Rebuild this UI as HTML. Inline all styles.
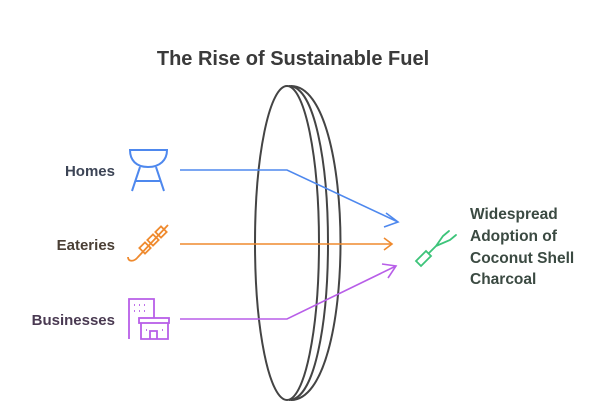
<!DOCTYPE html>
<html><head><style>
body{margin:0;width:606px;height:415px;background:#fff;overflow:hidden;font-family:"Liberation Sans",sans-serif}
</style></head><body>
<svg width="606" height="415" xmlns="http://www.w3.org/2000/svg" font-family="Liberation Sans, sans-serif">
<text x="293" y="65" text-anchor="middle" font-size="20" font-weight="bold" fill="#3a3a3a">The Rise of Sustainable Fuel</text>
<g fill="none" stroke="#444" stroke-width="2">
<ellipse cx="287" cy="243" rx="32" ry="157"/>
<path d="M289,86 C341,86 341,400 289,400"/>
<path d="M291,86 C357,86 357,400 291,400"/>
</g>
<g fill="none" stroke-width="1.6">
<path d="M180,170 H287 L398,222" stroke="#4e88ee"/>
<path d="M386,213 L398,222 L384,227" stroke="#4e88ee"/>
<path d="M180,244 H392" stroke="#ef8a2e"/>
<path d="M384,238 L392,244 L384,250" stroke="#ef8a2e"/>
<path d="M180,319 H287 L396,266" stroke="#b85ee8"/>
<path d="M382,264 L396,266 L388,278" stroke="#b85ee8"/>
</g>
<g fill="none" stroke="#4e88ee" stroke-width="2">
<path d="M130,150 H167 C167,160 160,167 148,167 C136,167 130,160 130,150Z"/>
<path d="M140,167 L132,191 M156,167 L164,191 M136,181 H160"/>
</g>
<g fill="none" stroke="#ef8a2e" stroke-width="1.8">
<path d="M168,225 L138,257 C134,262 128,262 128,257"/>
<rect x="141" y="244" width="8" height="8" transform="rotate(-45 145 248)"/>
<rect x="149" y="236" width="8" height="8" transform="rotate(-45 153 240)"/>
<rect x="157" y="228" width="8" height="8" transform="rotate(-45 161 232)"/>
</g>
<g fill="none" stroke="#b85ee8" stroke-width="1.8">
<path d="M129,339 V299 H154 V318"/>
<rect x="139" y="318" width="30" height="5"/>
<path d="M141,323 V339 H168 V323 M150,339 V331 H157 V339"/>
<path d="M134,305 h1 M139,305 h1 M144,305 h1 M134,311 h1 M139,311 h1 M144,311 h1 M146,330 h1 M162,330 h1"/>
</g>
<g fill="none" stroke="#3dc47a" stroke-width="1.8" stroke-linecap="round">
<path d="M416,261 L426,251 L431,256 L421,266 Z"/>
<path d="M429,253 L436,246 L443,236 L449,231 M436,246 L450,240 L456,235"/>
</g>
<text x="115" y="176" text-anchor="end" font-size="15" font-weight="bold" fill="#3d4556">Homes</text>
<text x="115" y="250" text-anchor="end" font-size="15" font-weight="bold" fill="#4a3f35">Eateries</text>
<text x="115" y="325" text-anchor="end" font-size="15" font-weight="bold" fill="#4a3a52">Businesses</text>
<g font-size="15.5" font-weight="bold" fill="#3b4a42">
<text x="470" y="219">Widespread</text>
<text x="470" y="241">Adoption of</text>
<text x="470" y="263">Coconut Shell</text>
<text x="470" y="284">Charcoal</text>
</g>
</svg>
</body></html>
